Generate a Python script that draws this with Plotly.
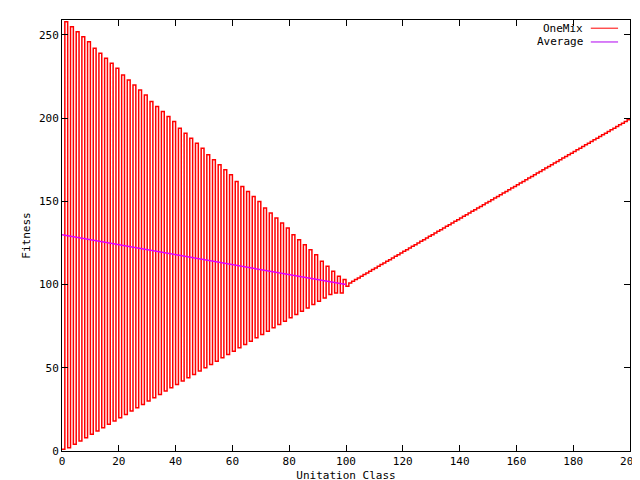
import plotly.graph_objects as go

# OneMix values: even unitation (low), odd unitation below 100 (high), ramp above 100
even_u = [0,2,4,6,8,10,12,14,16,18,20,22,24,26,28,30,32,34,36,38,40,42,44,46,48,50,
          52,54,56,58,60,62,64,66,68,70,72,74,76,78,80,82,84,86,88,90,92,94,96,98,100]
even_f = [1,2,4,6,8,10,12,14,16,18,20,22,24,26,28,30,32,34,36,38,40,42,44,46,48,50,
          52,54,56,58,60,62,64,66,68,70,72,74,76,78,80,82,84,86,88,90,92,94,95,95,99]
odd_f = [258,255,252,249,246,242,239,236,233,230,226,223,220,217,214,210,207,204,201,198,
         194,191,188,185,182,178,175,172,169,166,162,159,156,153,150,146,143,140,137,134,
         130,127,124,121,118,114,111,108,105,103]
ramp_u = [101,102,103,104,105,106,107,108,109,110,111,112,113,114,115,116,117,118,119,120,
          121,122,123,124,125,126,127,128,129,130,131,132,133,134,135,136,137,138,139,140,
          141,142,143,144,145,146,147,148,149,150,151,152,153,154,155,156,157,158,159,160,
          161,162,163,164,165,166,167,168,169,170,171,172,173,174,175,176,177,178,179,180,
          181,182,183,184,185,186,187,188,189,190,191,192,193,194,195,196,197,198,199,200]
ramp_f = [101,102,103,104,105,106,107,108,109,110,111,112,113,114,115,116,117,118,119,120,
          121,122,123,124,125,126,127,128,129,130,131,132,133,134,135,136,137,138,139,140,
          141,142,143,144,145,146,147,148,149,150,151,152,153,154,155,156,157,158,159,160,
          161,162,163,164,165,166,167,168,169,170,171,172,173,174,175,176,177,178,179,180,
          181,182,183,184,185,186,187,188,189,190,191,192,193,194,195,196,197,198,199,200]
avg_x = [0, 100]
avg_y = [130, 100]
series_names = ["OneMix", "Average"]
series_colors = ["red", "#b000f0"]

xs, ys = [], []
for i, u in enumerate(even_u):
    xs.append(u); ys.append(even_f[i])
    if i < len(odd_f):
        xs.append(u + 1); ys.append(odd_f[i])
xs += ramp_u; ys += ramp_f

font = dict(family="DejaVu Sans Mono", size=11, color="black")
fig = go.Figure()
fig.add_trace(go.Scatter(x=xs, y=ys, mode="lines", line=dict(color=series_colors[0], width=1.5, shape="hv"),
                         name=series_names[0], showlegend=False))
fig.add_trace(go.Scatter(x=avg_x, y=avg_y, mode="lines", line=dict(color="#e000ff", width=1.5),
                         name=series_names[1], showlegend=False))

# gnuplot-style key: label left of sample line
for i, (nm, col) in enumerate(zip(series_names, series_colors)):
    yy = 0.981 - i * 0.032
    fig.add_annotation(x=0.921, y=yy, xref="paper", yref="paper", text=nm, showarrow=False,
                       xanchor="right", yanchor="middle", font=font)
    fig.add_shape(type="line", xref="paper", yref="paper", x0=0.931, x1=0.979, y0=yy, y1=yy,
                  line=dict(color=col, width=1))

ax = dict(showline=True, mirror="ticks", linecolor="black", linewidth=1, ticks="inside", ticklen=6,
          tickcolor="black", showgrid=False, zeroline=False, tickfont=font, automargin=False)
fig.update_layout(
    width=640, height=480, plot_bgcolor="white", paper_bgcolor="white", font=font,
    margin=dict(l=54, r=18, t=12, b=37, autoexpand=False),
    xaxis=dict(range=[0, 200], dtick=20, title=dict(text="Unitation Class", font=font, standoff=4), **ax),
    yaxis=dict(range=[0, 259], dtick=50, title=dict(text="Fitness", font=font, standoff=6), **ax),
    showlegend=False,
)
fig.write_html("out.html")
